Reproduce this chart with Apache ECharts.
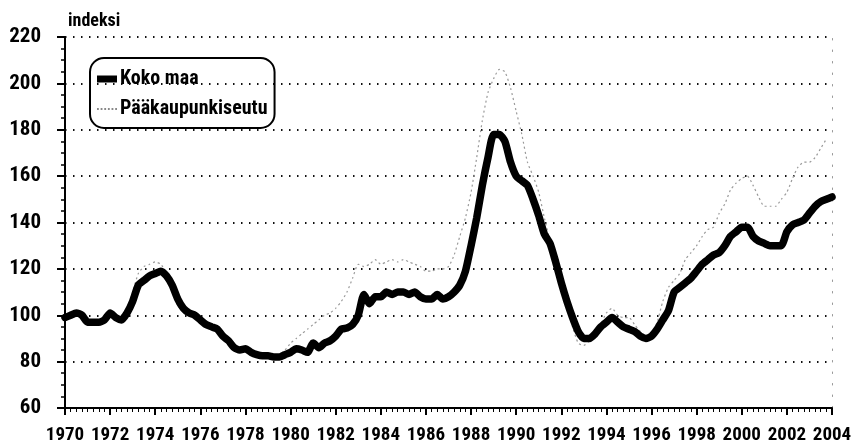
<!DOCTYPE html>
<html>
<head>
<meta charset="utf-8">
<script src="https://cdn.jsdelivr.net/npm/echarts@6/dist/echarts.min.js"></script>
<style>
  html, body { margin: 0; padding: 0; background: #fff; }
  #main { width: 864px; height: 448px; }
</style>
</head>
<body>
<div id="main"></div>
<script>
// neljännesvuosittaiset indeksit, alkaen 1970 Q1
var startYear = 1970;
var kokoMaa = [
  99, 100, 101, 100,
  97, 97, 97, 98,
  101, 99, 98, 101,
  106, 113, 115, 117,
  118, 119, 117, 113,
  107, 103, 101, 100,
  98, 96, 95, 94,
  91, 89, 86, 85,
  85.5, 84, 83, 82.5,
  82.5, 82, 82, 83,
  84, 85.5, 85, 84,
  88, 86, 88, 89,
  91, 94, 94.5, 96,
  100, 109, 105, 108,
  108, 110, 109, 110,
  110, 109, 110, 108,
  107, 107, 109, 107,
  108, 110, 113, 119,
  130, 142, 156, 168,
  178, 178, 175, 166,
  160, 158, 156, 150,
  143, 135, 131, 123,
  114, 106, 99, 93,
  90, 90, 92, 95,
  97, 99, 97, 95,
  94, 93, 91, 90,
  91, 94, 98, 102,
  110, 112, 114, 116,
  119, 122, 124, 126,
  127, 130, 134, 136,
  138, 138, 134, 132,
  131, 130, 130, 130,
  136, 139, 140, 141,
  144, 147, 149, 150,
  151
];
var paakaupunkiseutu = [
  100, 101, 102, 101,
  99, 98, 98, 99,
  102, 100, 100, 103,
  110, 118, 121, 122,
  123, 122, 118, 111,
  104, 102, 101, 100,
  98, 96, 95, 94,
  91, 89, 87, 85,
  85, 84, 83, 82,
  82, 82, 83, 85,
  88, 90, 92, 94,
  96, 98, 100, 101,
  103, 106, 110, 116,
  122, 121, 122, 124,
  122, 123, 124, 123,
  124, 123, 122, 121,
  119, 119, 120, 120,
  121, 126, 134, 142,
  153, 168, 184, 196,
  202, 206, 205, 198,
  188, 178, 166, 160,
  153, 142, 132, 122,
  114, 104, 95, 88,
  87, 89, 91, 96,
  101, 103, 100, 99,
  99, 96, 93, 91,
  92, 97, 106, 112,
  115, 118, 124, 127,
  130, 134, 137, 138,
  144, 148, 154, 157,
  159, 160, 156, 151,
  147, 147, 147, 150,
  153, 159, 164, 166,
  166, 168, 172, 176
];
var yTicks = [60, 80, 100, 120, 140, 160, 180, 200, 220];

var font = '"Roboto Condensed", "Liberation Sans", sans-serif';

function toPairs(arr) {
  return arr.map(function (v, i) { return [startYear + i / 4, v]; });
}

var option = {
  animation: false,
  title: {
    text: 'indeksi',
    left: 63,
    top: 7,
    textStyle: { fontFamily: font, fontWeight: 'bold', fontSize: 18, color: '#000' }
  },
  legend: {
    orient: 'vertical',
    left: 90,
    top: 58,
    padding: [11, 7, 9, 7],
    itemGap: 10,
    itemWidth: 20,
    itemHeight: 18,
    borderColor: '#000',
    borderWidth: 2,
    borderRadius: 14,
    textStyle: { fontFamily: font, fontWeight: 'bold', fontSize: 20, color: '#000', padding: [0, 0, 0, -2] },
    data: [
      { name: 'Koko maa', icon: 'path://M0,0H20V7H0Z', itemStyle: { color: '#000' } },
      { name: 'Pääkaupunkiseutu', icon: 'path://M0,0h2v2h-2zM4,0h2v2h-2zM8,0h2v2h-2zM12,0h2v2h-2zM16,0h2v2h-2zM20,0h2v2h-2z', itemStyle: { color: '#888' } }
    ]
  },
  grid: { left: 65, right: 32, top: 37, bottom: 40 },
  xAxis: {
    type: 'value',
    min: 1970,
    max: 2004,
    interval: 2,
    axisLine: { onZero: false, lineStyle: { color: '#000', width: 2 } },
    axisTick: { length: 7, lineStyle: { color: '#000', width: 2 } },
    minorTick: { show: true, splitNumber: 8, length: 4, lineStyle: { color: '#000', width: 1 } },
    splitLine: { show: false },
    axisLabel: {
      margin: 18,
      showMinLabel: true,
      showMaxLabel: true,
      hideOverlap: false,
      fontFamily: font, fontWeight: 'bold', fontSize: 19, color: '#000',
      formatter: function (v) { return String(v); }
    }
  },
  yAxis: [{
    type: 'value',
    min: yTicks[0],
    max: yTicks[yTicks.length - 1],
    interval: 20,
    axisLine: { show: true, lineStyle: { color: '#000', width: 2 } },
    axisTick: { show: true, length: 8, lineStyle: { color: '#000', width: 2 } },
    minorTick: { show: true, splitNumber: 4, length: 4, lineStyle: { color: '#000', width: 1.5 } },
    splitLine: { show: true, lineStyle: { color: '#111', width: 2, type: [1.5, 6.5] } },
    axisLabel: {
      margin: 24,
      fontFamily: font, fontWeight: 'bold', fontSize: 21, color: '#000'
    }
  }, {
    type: 'value',
    position: 'right',
    min: 60,
    max: 220,
    interval: 20,
    axisLine: { show: true, lineStyle: { color: '#999', width: 1, type: [1.5, 10] } },
    axisTick: { show: false },
    axisLabel: { show: false },
    splitLine: { show: false }
  }],
  series: [
    {
      name: 'Pääkaupunkiseutu',
      type: 'line',
      data: toPairs(paakaupunkiseutu),
      symbol: 'none',
      smooth: 0.2,
      z: 2,
      lineStyle: { color: '#999', width: 1.2, type: [2, 3] }
    },
    {
      name: 'Koko maa',
      type: 'line',
      data: toPairs(kokoMaa),
      symbol: 'none',
      smooth: 0.2,
      z: 3,
      lineStyle: { color: '#000', width: 7.5, join: 'round', cap: 'round' }
    }
  ]
};

var chart = echarts.init(document.getElementById('main'), null, { renderer: 'canvas' });
chart.setOption(option);
</script>
</body>
</html>
